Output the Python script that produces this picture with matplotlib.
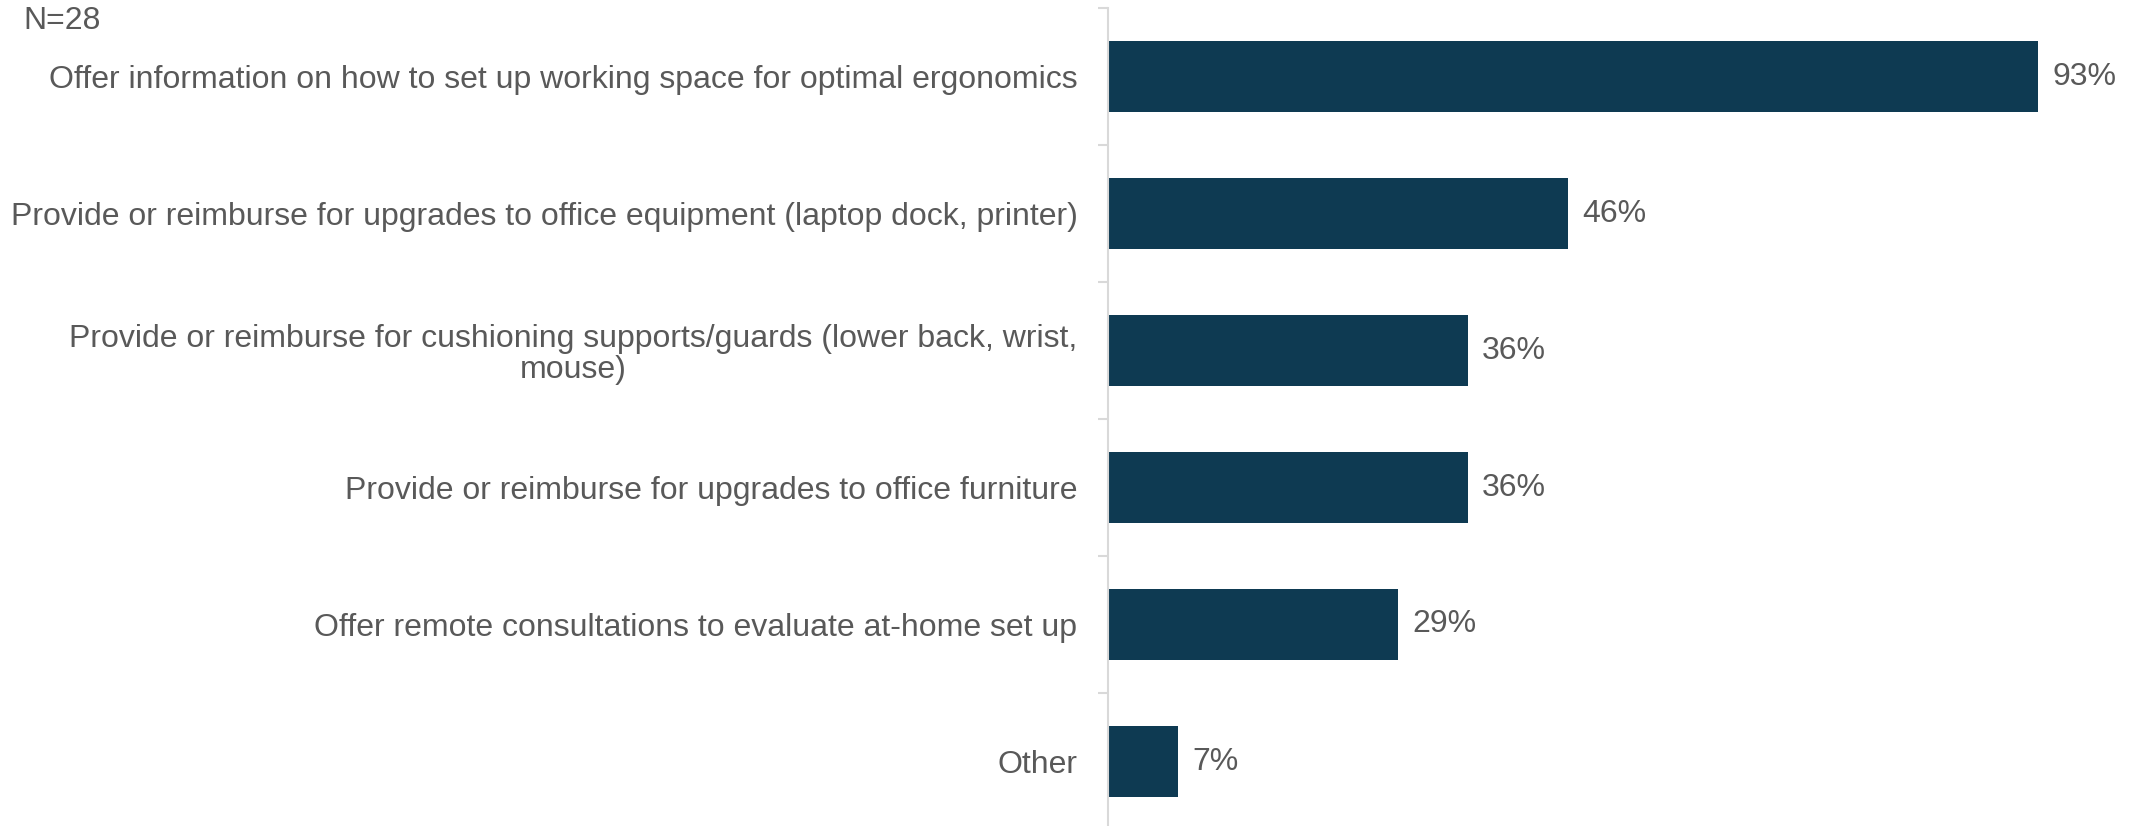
import numpy as np
import matplotlib.pyplot as plt

plt.rcParams['font.family'] = ['Liberation Sans', 'DejaVu Sans']

categories = [
    "Offer information on how to set up working space for optimal ergonomics",
    "Provide or reimburse for upgrades to office equipment (laptop dock, printer)",
    "Provide or reimburse for cushioning supports/guards (lower back, wrist,\nmouse)",
    "Provide or reimburse for upgrades to office furniture",
    "Offer remote consultations to evaluate at-home set up",
    "Other",
]
values = [93, 46, 36, 36, 29, 7]
sample_note = "N=28"

bar_color = '#0e3a52'
text_color = '#595959'
axis_color = '#d9d9d9'

fig = plt.figure(figsize=(21.38, 8.26), dpi=100)
# category band is ~137 px; axis runs from just below the top edge past the bottom
ax = fig.add_axes([1108 / 2138, -4 / 826, 1000 / 2138, 822 / 826])

y = np.arange(len(categories))
ax.barh(y, values, height=0.525, color=bar_color)

for yi, v in zip(y, values):
    ax.text(v + 1.4, yi, f"{v}%", va='center', ha='left',
            fontsize=23, color=text_color)

ax.set_xlim(0, 100)
ax.set_ylim(len(categories) - 0.5, -0.5)

ax.set_yticks(y)
ax.set_yticklabels(categories, fontsize=23, color=text_color,
                   multialignment='center', linespacing=1.05)
ax.tick_params(axis='y', which='major', length=0, pad=22)
ax.set_yticks(np.arange(-0.5, len(categories)), minor=True)
ax.tick_params(axis='y', which='minor', length=7, width=1.5, color=axis_color)
ax.set_xticks([])

for side in ['top', 'right', 'bottom']:
    ax.spines[side].set_visible(False)
ax.spines['left'].set_color(axis_color)
ax.spines['left'].set_linewidth(1.5)

fig.text(23 / 2138, 1 - 6 / 826, sample_note, ha='left', va='top',
         fontsize=23, color=text_color)

fig.savefig('out.png', dpi=100)
